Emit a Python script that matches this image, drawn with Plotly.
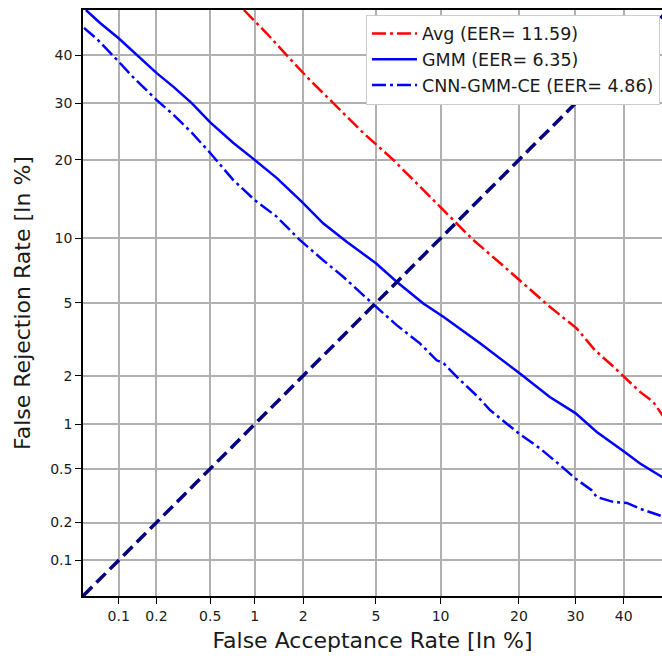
import plotly.graph_objects as go
from statistics import NormalDist

# ---- data (percent) ----
avg_far = [0.85, 1.195, 1.59, 2.19, 2.85, 4.31, 6.09, 8.4, 9.94, 11.3, 13.6, 17.2, 21.2, 25.2, 30.25, 33.9, 37.8, 40, 43.6, 46.5, 48.5, 50]
avg_frr = [50.0, 44.8, 40.0, 34.7, 30.7, 24.5, 20.0, 15.6, 13.5, 11.9, 9.83, 7.75, 6.01, 4.78, 3.69, 2.81, 2.26, 1.99, 1.6, 1.39, 1.15, 1.0]

gmm_far = [0.053, 0.07, 0.1, 0.131, 0.2, 0.27, 0.37, 0.5, 0.72, 1.0, 1.38, 1.96, 2.61, 3.52, 5.0, 6.32, 8.4, 10.27, 12.8, 14.5, 20, 25.2, 30, 34.3, 40, 43.6, 48.5, 50]
gmm_frr = [50.0, 47.1, 43.7, 40.8, 36.2, 33.3, 30.0, 26.4, 22.8, 20.0, 17.3, 14.1, 11.55, 9.66, 7.75, 6.35, 4.97, 4.25, 3.47, 3.06, 2.08, 1.49, 1.18, 0.89, 0.66, 0.544, 0.437, 0.41]

cnn_far = [0.051, 0.066, 0.1, 0.131, 0.2, 0.27, 0.37, 0.5, 0.72, 1.0, 1.38, 1.91, 2.61, 3.37, 4.49, 5.24, 6.32, 8.11, 9.62, 10.3, 12.0, 14.2, 15.8, 20, 23.5, 27.1, 30, 33.25, 34.3, 37.8, 40.7, 43.6, 48.0, 50]
cnn_frr = [46.0, 43.5, 38.6, 35.3, 30.7, 27.8, 24.5, 21.1, 17.0, 14.3, 12.3, 9.83, 8.0, 6.71, 5.27, 4.6, 3.84, 3.06, 2.46, 2.36, 1.9, 1.49, 1.23, 0.87, 0.69, 0.529, 0.426, 0.35, 0.312, 0.287, 0.282, 0.255, 0.227, 0.215]

diag = [0.05, 50]

tick_pct = [0.1, 0.2, 0.5, 1, 2, 5, 10, 20, 30, 40]
tick_text = ["0.1", "0.2", "0.5", "1", "2", "5", "10", "20", "30", "40"]

labels = ["Avg (EER= 11.59)", "GMM (EER= 6.35)", "CNN-GMM-CE (EER= 4.86)"]

ND = NormalDist()


def probit(pcts):
    return [ND.inv_cdf(v / 100.0) for v in pcts]


fig = go.Figure()
fig.add_trace(go.Scatter(x=probit(avg_far), y=probit(avg_frr), mode="lines", name=labels[0],
                         line=dict(color="#ff0000", width=2.5, dash="14px,4px,3px,4px")))
fig.add_trace(go.Scatter(x=probit(gmm_far), y=probit(gmm_frr), mode="lines", name=labels[1],
                         line=dict(color="#0000ff", width=2.5)))
fig.add_trace(go.Scatter(x=probit(cnn_far), y=probit(cnn_frr), mode="lines", name=labels[2],
                         line=dict(color="#0000ff", width=2.5, dash="14px,4px,3px,4px")))
fig.add_trace(go.Scatter(x=probit(diag), y=probit(diag), mode="lines", showlegend=False,
                         line=dict(color="#000080", width=3.5, dash="13px,6px")))

font_family = "DejaVu Sans, sans-serif"

fig.update_xaxes(
    range=[ND.inv_cdf(0.0005), ND.inv_cdf(0.4849)],
    tickmode="array", tickvals=probit(tick_pct), ticktext=tick_text,
    ticks="outside", ticklen=6, tickwidth=1.2, tickcolor="black",
    tickfont=dict(size=14, color="#1a1a1a", family=font_family),
    showgrid=True, gridcolor="#b0b0b0", gridwidth=1.5,
    showline=True, linecolor="black", linewidth=1.5, mirror=True,
    zeroline=False,
    title=dict(text="False Acceptance Rate [In %]", font=dict(size=22, color="#1a1a1a", family=font_family), standoff=10),
)
fig.update_yaxes(
    range=[ND.inv_cdf(0.0005), 0.0],
    tickmode="array", tickvals=probit(tick_pct), ticktext=tick_text,
    ticks="outside", ticklen=6, tickwidth=1.2, tickcolor="black",
    tickfont=dict(size=14, color="#1a1a1a", family=font_family),
    showgrid=True, gridcolor="#b0b0b0", gridwidth=1.5,
    showline=True, linecolor="black", linewidth=1.5, mirror=False,
    zeroline=False,
    title=dict(text="False Rejection Rate [In %]", font=dict(size=22, color="#1a1a1a", family=font_family), standoff=13),
)

fig.update_layout(
    width=662, height=656,
    margin=dict(l=83, r=0, t=10, b=60, autoexpand=False),
    plot_bgcolor="white", paper_bgcolor="white",
    font=dict(family=font_family),
    showlegend=True,
    legend=dict(
        x=0.9965, y=0.992, xanchor="right", yanchor="top",
        bgcolor="white", bordercolor="#cccccc", borderwidth=1,
        font=dict(size=17.5, color="#1a1a1a", family=font_family),
        tracegroupgap=0, itemwidth=45,
    ),
)

fig.write_html("out.html")
